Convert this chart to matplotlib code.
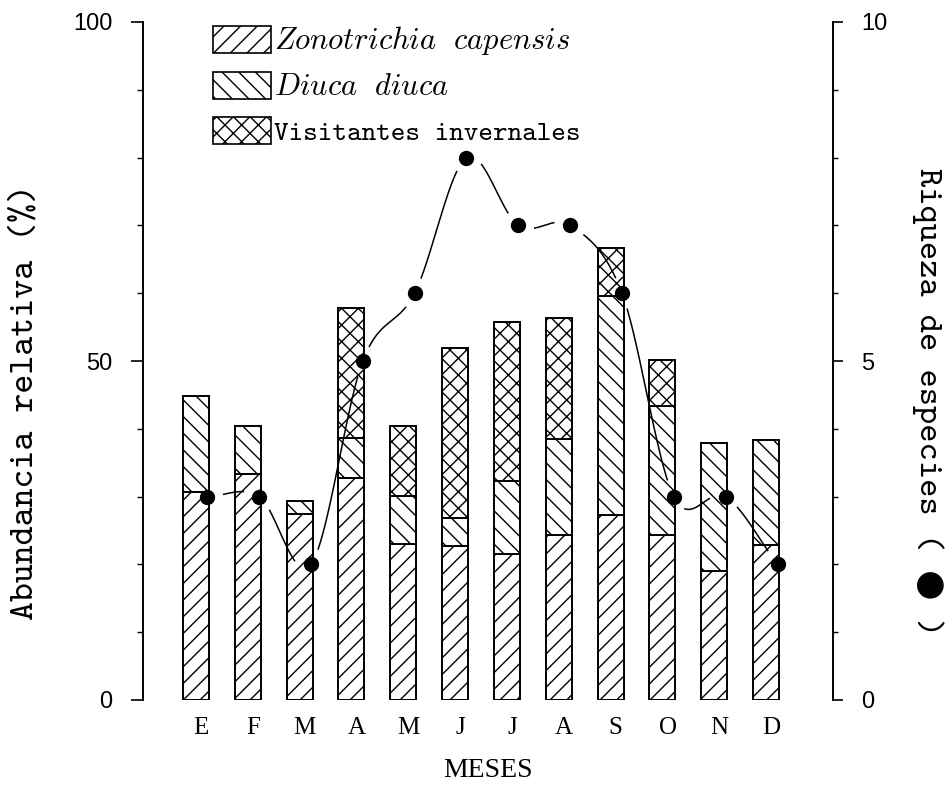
import matplotlib

matplotlib.use("Agg")
import matplotlib.pyplot as plt  # noqa: E402
import numpy as np  # noqa: E402
from matplotlib.patches import Patch  # noqa: E402
from matplotlib.ticker import MultipleLocator  # noqa: E402

plt.rcParams["mathtext.fontset"] = "cm"
plt.rcParams["hatch.linewidth"] = 1.0

# abundancia relativa (%) por mes, apilada
meses = ["E", "F", "M", "A", "M", "J", "J", "A", "S", "O", "N", "D"]
zonotrichia = [30.7, 33.4, 27.4, 32.8, 23.0, 22.7, 21.6, 24.3, 27.3, 24.3, 19.1, 22.8]
diuca = [14.1, 7.0, 2.0, 5.9, 7.1, 4.2, 10.7, 14.2, 32.3, 19.1, 18.8, 15.6]
visitantes = [0.0, 0.0, 0.0, 19.1, 10.3, 25.0, 23.4, 17.8, 7.0, 6.7, 0.0, 0.0]
# riqueza de especies (eje derecho)
riqueza = [3, 3, 2, 5, 6, 8, 7, 7, 6, 3, 3, 2]

MONO = ["cmtt10", "DejaVu Sans"]
TIMES = "Liberation Serif"
SANS = "Liberation Sans"


def smooth(xs, ys, n=40):
    # cubic Hermite curve through the points (Catmull-Rom tangents)
    xs = np.asarray(xs, float)
    ys = np.asarray(ys, float)
    m = np.empty_like(ys)
    m[1:-1] = (ys[2:] - ys[:-2]) / 2.0
    m[0] = 0.0
    m[-1] = ys[-1] - ys[-2]
    px, py = [], []
    t = np.linspace(0, 1, n)
    h00 = 2 * t**3 - 3 * t**2 + 1
    h10 = t**3 - 2 * t**2 + t
    h01 = -2 * t**3 + 3 * t**2
    h11 = t**3 - t**2
    for i in range(len(xs) - 1):
        dx = xs[i + 1] - xs[i]
        px.append(xs[i] + t * dx)
        py.append(h00 * ys[i] + h10 * m[i] + h01 * ys[i + 1] + h11 * m[i + 1])
    return np.concatenate(px), np.concatenate(py)


fig = plt.figure(figsize=(9.47, 7.97), dpi=100)
ax = fig.add_axes([143 / 947, 1 - 700 / 797, 690 / 947, 678 / 797])
x = np.arange(len(meses))
z = np.array(zonotrichia)
d = np.array(diuca)
v = np.array(visitantes)

kw = dict(width=0.5, color="white", edgecolor="black", linewidth=1.4)
ax.bar(x, z, hatch="//", **kw)
ax.bar(x, d, bottom=z, hatch="\\\\", **kw)
mask = v > 0
ax.bar(x[mask], v[mask], bottom=(z + d)[mask], hatch="xx", **kw)

ax.set_xlim(-1.02, 12.29)
ax.set_ylim(0, 100)
for s in ("top", "bottom", "right"):
    ax.spines[s].set_visible(False)
ax.spines["left"].set_linewidth(1.4)
ax.set_yticks([0, 50, 100])
ax.yaxis.set_minor_locator(MultipleLocator(10))
ax.tick_params(axis="y", which="major", length=9, width=1.2, pad=13)
ax.tick_params(axis="y", which="minor", length=4.5, width=1.0)
for lab in ax.get_yticklabels():
    lab.set_fontfamily(SANS)
    lab.set_fontsize(17)
ax.set_xticks(x + 0.1)
ax.set_xticklabels(meses, fontfamily=TIMES, fontsize=18)
ax.tick_params(axis="x", length=0, pad=12)
ax.set_xlabel("MESES", fontfamily=TIMES, fontsize=20, labelpad=14)
ax.set_ylabel("Abundancia relativa (%)", fontfamily=MONO, fontsize=26)
ax.yaxis.set_label_coords(-0.149, 0.44)

ax2 = ax.twinx()
ax2.set_xlim(ax.get_xlim())
ax2.set_ylim(0, 10)
for s in ("top", "bottom", "left"):
    ax2.spines[s].set_visible(False)
ax2.spines["right"].set_linewidth(1.4)
ax2.set_yticks([0, 5, 10])
ax2.yaxis.set_minor_locator(MultipleLocator(1))
ax2.tick_params(axis="y", which="major", length=7.5, width=1.2, pad=13)
ax2.tick_params(axis="y", which="minor", length=3.5, width=1.0)
for lab in ax2.get_yticklabels():
    lab.set_fontfamily(SANS)
    lab.set_fontsize(17)
ax2.set_ylabel("Riqueza de especies ( \u25cf )", fontfamily=MONO, fontsize=25,
               rotation=270, va="bottom")
ax2.yaxis.set_label_coords(1.115, 0.44)

# riqueza: curva suave con huecos alrededor de cada punto
xr = x + 0.22
cx, cy = smooth(xr, riqueza, n=80)
pts = ax2.transData.transform(np.column_stack([cx, cy]))
dots = ax2.transData.transform(np.column_stack([xr, riqueza]))
dist = np.min(np.hypot(pts[:, None, 0] - dots[None, :, 0],
                       pts[:, None, 1] - dots[None, :, 1]), axis=1)
cy_gap = np.where(dist < 16, np.nan, cy)
ax2.plot(cx, cy_gap, color="black", lw=1.1, zorder=3)
ax2.plot(xr, riqueza, "o", color="black", ms=10, zorder=4)

handles = [
    Patch(facecolor="white", edgecolor="black", hatch="//", lw=1.2),
    Patch(facecolor="white", edgecolor="black", hatch="\\\\", lw=1.2),
    Patch(facecolor="white", edgecolor="black", hatch="xx", lw=1.2),
]
labels = [r"$Zonotrichia\ \ capensis$", r"$Diuca\ \ diuca$", "Visitantes invernales"]
leg = ax.legend(handles, labels, loc="upper left", bbox_to_anchor=(0.101, 0.997),
                frameon=False, borderpad=0, borderaxespad=0, handlelength=2.1,
                handleheight=1.1, handletextpad=0.12, labelspacing=0.55,
                prop={"family": MONO, "size": 20})
for t in leg.get_texts()[:2]:
    t.set_fontsize(22)

fig.savefig("out.png", dpi=100)
